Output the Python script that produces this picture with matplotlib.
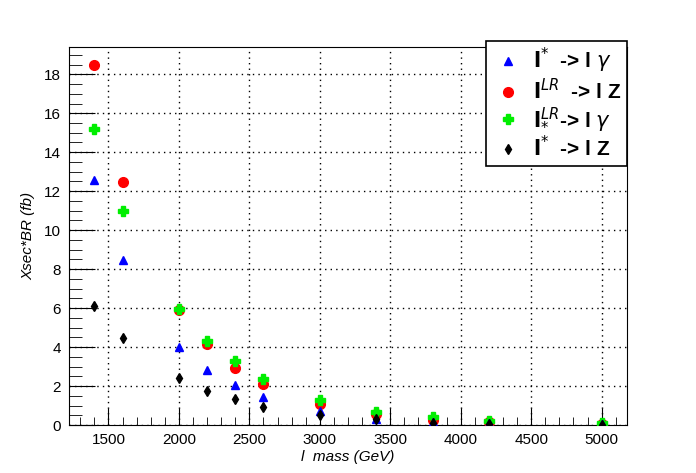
import matplotlib.pyplot as plt
from matplotlib.ticker import MultipleLocator

plt.rcParams['font.family'] = ['Liberation Sans', 'DejaVu Sans']

mass = [1400, 1600, 2000, 2200, 2400, 2600, 3000, 3400, 3800, 4200, 5000]
xs_gamma_lr = [12.55, 8.45, 3.98, 2.80, 2.03, 1.44, 0.70, 0.33, 0.14, 0.08, 0.03]
xs_z_lr = [18.5, 12.45, 5.91, 4.17, 2.95, 2.10, 1.06, 0.56, 0.26, 0.15, 0.06]
xs_gamma = [15.18, 11.0, 5.95, 4.29, 3.26, 2.36, 1.26, 0.65, 0.40, 0.20, 0.08]
xs_z = [6.1, 4.48, 2.43, 1.74, 1.35, 0.92, 0.53, 0.31, 0.10, 0.05, 0.02]

labels = [r"$\mathbf{l}^{*}$  -> l $\gamma$",
          r"$\mathbf{l}^{LR}$  -> l Z",
          r"$\mathbf{l}_{*}^{LR}$-> l $\gamma$",
          r"$\mathbf{l}^{*}$  -> l Z"]

fig = plt.figure(figsize=(6.96, 4.73), dpi=100)
ax = fig.add_axes([69/696, 1 - 425/473, (627-69)/696, (425-47)/473])

ax.plot(mass, xs_z_lr, 'o', color='red', ms=7, mec='red', zorder=3, label=labels[1])
ax.plot(mass, xs_gamma, 'P', color='#00ee00', ms=7, mec='#00ee00', zorder=4, label=labels[2])
ax.plot(mass, xs_gamma_lr, '^', color='blue', ms=5.5, zorder=5, label=labels[0])
ax.plot(mass, xs_z, 'd', color='black', ms=5, zorder=6, label=labels[3])

ax.set_xlim(1220, 5180)
ax.set_ylim(0, 19.4)
ax.xaxis.set_major_locator(MultipleLocator(500))
ax.xaxis.set_minor_locator(MultipleLocator(100))
ax.yaxis.set_major_locator(MultipleLocator(2))
ax.yaxis.set_minor_locator(MultipleLocator(0.5))
ax.tick_params(axis='x', which='major', direction='in', length=12, labelsize=11, pad=6)
ax.tick_params(axis='x', which='minor', direction='in', length=6)
ax.tick_params(axis='y', which='major', direction='in', length=19, labelsize=11, pad=6)
ax.tick_params(axis='y', which='minor', direction='in', length=9)
ax.grid(True, which='major', color='black', linestyle=(0, (1, 3)), linewidth=1)

ax.set_xlabel("l  mass (GeV)", style='italic', fontsize=11, labelpad=2)
ax.set_ylabel("Xsec*BR (fb)", style='italic', fontsize=11, labelpad=6)

h, l = ax.get_legend_handles_labels()
order = [2, 0, 1, 3]
leg = fig.legend([h[i] for i in order], [l[i] for i in order],
                 loc='upper left', mode='expand', borderaxespad=0,
                 bbox_to_anchor=(486/696, 1 - 136/473, 141/696, 95/473),
                 bbox_transform=fig.transFigure, fontsize=15,
                 frameon=True, fancybox=False, edgecolor='black', framealpha=1,
                 handletextpad=0.4, borderpad=0.25, labelspacing=0.12, handlelength=1.6)
leg.get_frame().set_linewidth(1.2)
for t in leg.get_texts():
    t.set_fontweight('bold')

plt.savefig("out.png", dpi=100)
